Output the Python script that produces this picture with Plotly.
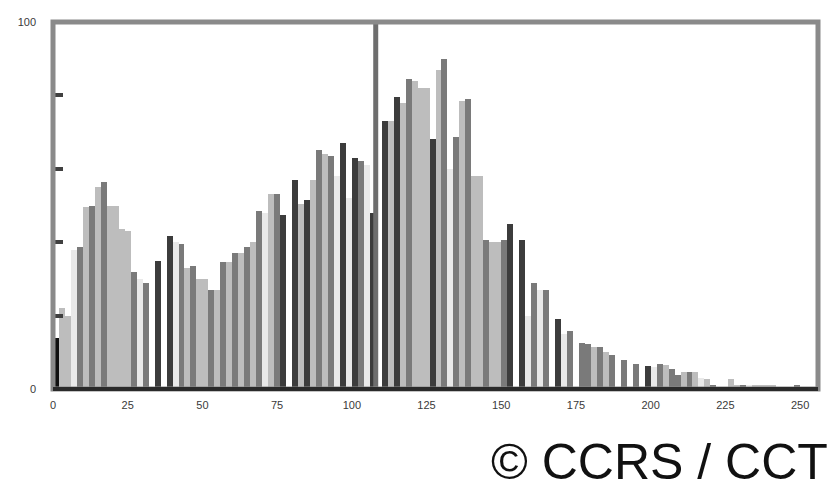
import plotly.graph_objects as go

# ---- data ----
# histogram of brightness values 0..255, bins of width 2 (bin start values)
bin_start = list(range(0, 252, 2))
# bar heights in percent of the vertical scale (0-100)
counts = [
    14, 22, 20, 38, 38.6, 49.7, 50, 55, 56.5, 50,
    50, 43.5, 43, 32, 30, 29, 0, 35, 0, 41.6,
    40, 39.4, 33, 33.5, 30, 30, 27, 27, 34.5, 34.5,
    37, 37, 38.6, 40, 48.4, 48, 53, 53, 47.5, 0,
    57, 50.5, 51.6, 57, 65, 64, 63.5, 58, 67, 52,
    63, 62, 61, 48, 0, 73, 73, 79.6, 78, 84.5,
    84, 82, 82, 68, 87, 90, 60, 68.8, 78.5, 79,
    58, 58, 40.7, 40, 40, 40.7, 45, 0, 40.5, 20,
    29, 27, 27, 0, 19, 15, 15.8, 0, 12.5, 12.3,
    11.4, 11.4, 10, 9.2, 0, 8, 0, 6.8, 0, 6.3,
    6, 6.7, 6.5, 5.4, 3.8, 4.6, 4.6, 4.6, 3, 2.7,
    1, 0, 0, 2.7, 1, 1, 1, 1, 1, 1,
    1, 0.5, 0, 0, 1, 0,
]
threshold_value = 108
y_tick_values = [0, 20, 40, 60, 80, 100]
y_tick_labels = ["0", "", "", "", "", "100"]
x_tick_values = [0, 25, 50, 75, 100, 125, 150, 175, 200, 225, 250]
x_tick_labels = ["0", "25", "50", "75", "100", "125", "150", "175", "200", "225", "250"]
credit = "© CCRS / CCT"

# ---- style: grey shade of each bar (scanned look) ----
shade_pattern = (
    "KLLWMLMLML" "LLLMWMWDWD" "WMLMLLMLML" "MLMLMWLMDW"
    "DLDLMLMWDW" "DMWDWDLDLM" "LLLDLMWMLM" "LLMLLMDWDW"
    "MWMWDWMWMM" "LMLMWMWMWD" "WMLMMLMLWL" "MWWLLMWLLL"
    "LWWWMW"
)
shade_colors = {"K": "#101010", "D": "#3c3c3c", "M": "#7a7a7a",
                "L": "#bdbdbd", "W": "#e9e9e9"}
bar_colors = [shade_colors[c] for c in shade_pattern]

fig = go.Figure()
fig.add_trace(go.Bar(
    x=[b + 1 for b in bin_start],
    y=counts,
    width=2,
    marker=dict(color=bar_colors, line=dict(width=0)),
    showlegend=False,
))

# threshold line
fig.add_shape(type="line", xref="x", yref="paper",
              x0=threshold_value, x1=threshold_value, y0=0, y1=1,
              line=dict(color="#6e6e6e", width=5), layer="above")

# frame of the plot area
fig.add_shape(type="rect", xref="paper", yref="paper", x0=0, x1=1, y0=0, y1=1,
              line=dict(color="#8a8a8a", width=5), layer="above")
# darker bottom axis line
fig.add_shape(type="line", xref="paper", yref="paper", x0=0, x1=1, y0=0, y1=0,
              line=dict(color="#2a2a2a", width=4), layer="above")

fig.add_annotation(text=credit, xref="paper", yref="paper",
                   x=1.016, y=-0.2, xanchor="right", yanchor="middle",
                   showarrow=False,
                   font=dict(family="Liberation Sans, Arial, sans-serif",
                             size=50, color="#111111"))

fig.update_layout(
    width=833, height=489,
    margin=dict(l=53, r=15, t=22, b=100),
    paper_bgcolor="white", plot_bgcolor="white",
    bargap=0,
    font=dict(family="Liberation Sans, Arial, sans-serif", color="#444444"),
    xaxis=dict(range=[0, 256], showgrid=False, zeroline=False,
               tickvals=x_tick_values, ticktext=x_tick_labels,
               ticks="", ticklabelstandoff=8,
               tickfont=dict(size=11, color="#3a3a3a")),
    yaxis=dict(range=[0, 100], showgrid=False, zeroline=False,
               tickvals=y_tick_values, ticktext=y_tick_labels,
               ticks="inside", ticklen=10, tickwidth=4, tickcolor="#404040",
               ticklabelstandoff=16,
               tickfont=dict(size=11, color="#3a3a3a")),
)

fig.write_html("out.html",
               config={"displayModeBar": False},
               post_script="document.body.style.margin='0px';document.body.style.overflow='hidden';")
